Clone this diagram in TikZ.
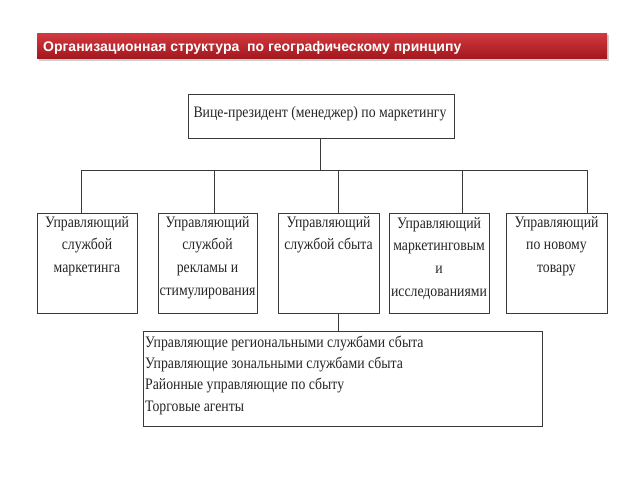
\documentclass[tikz,border=0pt]{standalone}
\usepackage{fontspec}
\setmainfont{Liberation Serif}
\newfontfamily\rus[FakeStretch=0.86]{Liberation Serif}
\newfontfamily\ttl{Liberation Sans}
\definecolor{ln}{HTML}{3A3A3A}
\definecolor{bantop}{HTML}{D23A40}
\definecolor{banbot}{HTML}{A3181E}
\tikzset{
  boxshape/.style={draw=ln, line width=0.9pt, rectangle, inner sep=0pt},
  boxtext/.style={font=\rus\fontsize{16}{22.8}\selectfont, align=center, inner sep=0pt, anchor=north, text=black!85},
  conn/.style={draw=ln, line width=0.9pt},
}
\begin{document}
\begin{tikzpicture}[x=1pt,y=-1pt]
\useasboundingbox (0,0) rectangle (640,480);
\fill[white] (0,0) rectangle (640,480);
% banner
\fill[black!18] (39,35) rectangle (609,61);
\shade[top color=bantop, bottom color=banbot] (37,33) rectangle (607,58);
\node[anchor=base west, inner sep=0pt, text=white, font=\ttl\bfseries\fontsize{14}{17}\selectfont] (title) at (43,51) {Организационная структура\ \ по географическому принципу};
% top box
\node[boxshape, minimum width=266pt, minimum height=44pt] (vp) at (321,116) {};
\node[font=\rus\fontsize{16}{18}\selectfont, inner sep=0pt, text=black!85] (vpt) at (320,114) {Вице-президент (менеджер) по маркетингу};
% second row
\node[boxshape, minimum width=100pt, minimum height=100pt] (b1) at (87,263) {};
\node[boxshape, minimum width=99pt, minimum height=100pt] (b2) at (207.5,263) {};
\node[boxshape, minimum width=101pt, minimum height=100pt] (b3) at (328.5,263) {};
\node[boxshape, minimum width=100pt, minimum height=100pt] (b4) at (439,263) {};
\node[boxshape, minimum width=101pt, minimum height=100pt] (b5) at (556.5,263) {};
\node[boxtext] (t1) at (87,216) {Управляющий\\службой\\маркетинга};
\node[boxtext] (t2) at (207.5,216) {Управляющий\\службой\\рекламы и\\стимулирования};
\node[boxtext] (t3) at (328.5,216) {Управляющий\\службой сбыта};
\node[boxtext] (t4) at (439,217) {Управляющий\\маркетинговым\\и\\исследованиями};
\node[boxtext] (t5) at (556.5,216) {Управляющий\\по новому\\товару};
% bottom box
\node[boxshape, minimum width=399pt, minimum height=95pt] (bt) at (342.5,378.5) {};
\node[anchor=north west, inner sep=0pt, align=left, text=black!85, font=\rus\fontsize{16}{20.8}\selectfont] (btt) at (145,336) {Управляющие региональными службами сбыта\\Управляющие зональными службами сбыта\\Районные управляющие по сбыту\\[1.2pt]Торговые агенты};
% connectors
\coordinate (j) at (320,170);
\draw[conn] (vp.south -| j) -- (j);
\draw[conn] (81,170) -- (587,170);
\draw[conn] (81,170) -- (b1.north -| 81,0);
\draw[conn] (214,170) -- (b2.north -| 214,0);
\draw[conn] (338,170) -- (b3.north -| 338,0);
\draw[conn] (462,170) -- (b4.north -| 462,0);
\draw[conn] (587,170) -- (b5.north -| 587,0);
\draw[conn] (b3.south -| 338,0) -- (bt.north -| 338,0);
\end{tikzpicture}
\end{document}
